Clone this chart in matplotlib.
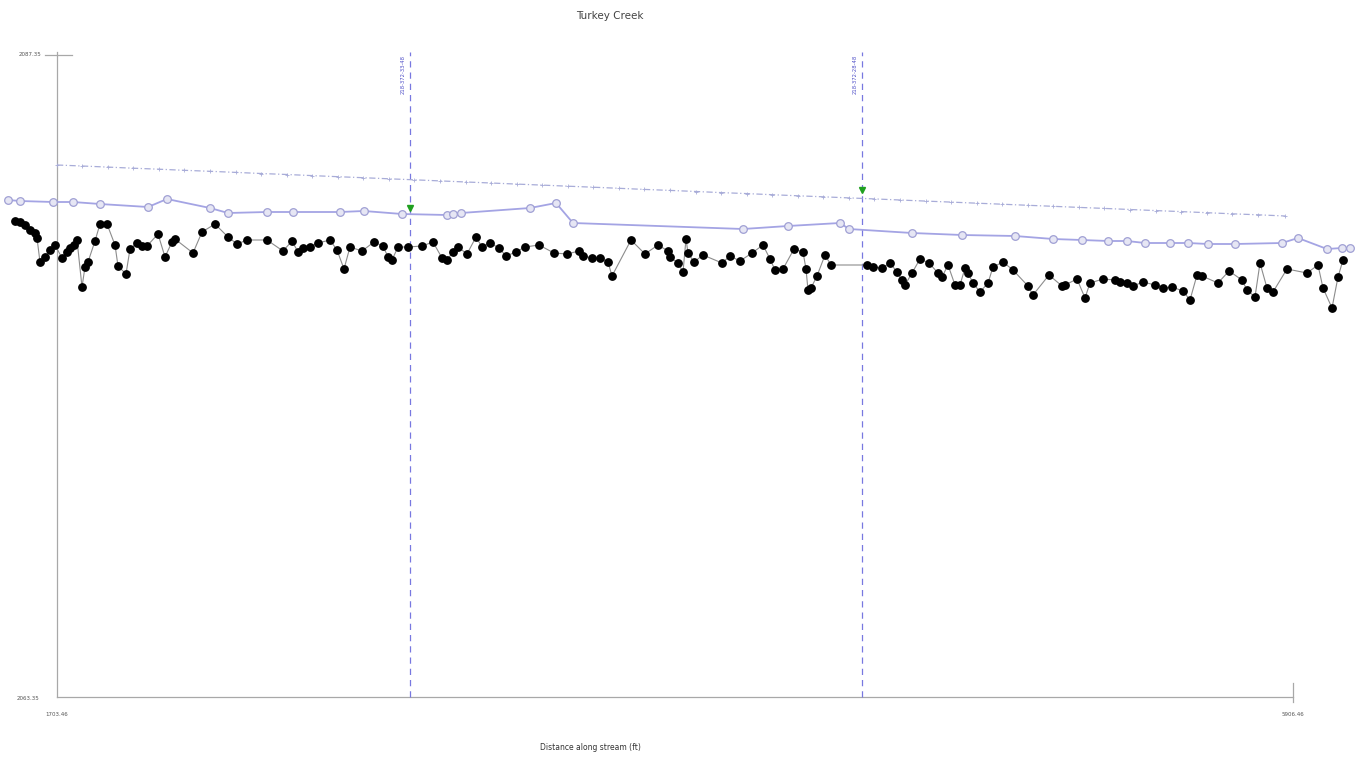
import matplotlib.pyplot as plt

# Stream profile, Turkey Creek (station / elevation in plot units)
bed_station = [15, 20, 25, 30, 35, 37, 40, 45, 50, 55, 62, 67, 70, 74, 77, 82, 85, 88, 95, 100,
               107, 115, 118, 126, 130, 137, 142, 147, 158, 165, 172, 175, 193, 202, 215, 228, 237, 247, 267, 283,
               292, 298, 303, 310, 318, 330, 337, 344, 350, 362, 374, 383, 388, 392, 398, 408, 422, 433, 442, 447,
               453, 458, 467, 476, 482, 490, 499, 506, 516, 525, 539, 554, 567, 579, 583, 592, 600, 608, 612, 631,
               645, 658, 668, 670, 678, 683, 686, 688, 694, 703, 722, 730, 740, 752, 763, 770, 775, 783, 794, 803,
               806, 808, 811, 817, 825, 831, 867, 873, 882, 890, 897, 902, 905, 912, 920, 929, 938, 942, 948, 955,
               960, 965, 968, 973, 980, 988, 993, 1003, 1013, 1028, 1033, 1049, 1062, 1065, 1077, 1085, 1090, 1103, 1115, 1120,
               1127, 1133, 1143, 1155, 1163, 1172, 1183, 1190, 1197, 1202, 1218, 1229, 1242, 1247, 1255, 1260, 1267, 1273, 1287, 1307,
               1318, 1323, 1332, 1338, 1343]
bed_elev = [479, 478, 475, 470, 467, 462, 438, 443, 450, 455, 442, 448, 452, 455, 460, 413, 433, 438, 459, 476,
            476, 455, 434, 426, 451, 457, 454, 454, 466, 443, 458, 461, 447, 468, 476, 463, 456, 460, 460, 449,
            459, 448, 452, 453, 457, 460, 450, 431, 453, 449, 458, 454, 443, 440, 453, 453, 454, 458, 442, 440,
            448, 453, 446, 463, 453, 457, 452, 444, 448, 453, 455, 447, 446, 449, 444, 442, 442, 438, 424, 460,
            446, 455, 449, 443, 437, 428, 461, 447, 438, 445, 437, 444, 439, 447, 455, 441, 430, 431, 451, 448,
            431, 410, 412, 424, 445, 435, 435, 433, 432, 437, 428, 420, 415, 427, 441, 437, 427, 423, 435, 415,
            415, 432, 427, 417, 408, 417, 433, 438, 430, 414, 405, 425, 414, 415, 421, 402, 417, 421, 420, 418,
            417, 414, 418, 415, 412, 413, 409, 400, 425, 424, 417, 429, 420, 410, 403, 437, 412, 408, 431, 427,
            435, 412, 392, 423, 440]

ws_station = [8, 20, 53, 73, 100, 148, 167, 210, 228, 267, 293, 340, 364, 402, 447, 453, 461, 530, 556, 573,
              743, 788, 840, 849, 912, 962, 1015, 1053, 1082, 1108, 1127, 1145, 1170, 1188, 1208, 1235, 1282, 1298, 1327, 1342,
              1350]
ws_elev = [500, 499, 498, 498, 496, 493, 501, 492, 487, 488, 488, 488, 489, 486, 485, 486, 487, 492, 497, 477,
           471, 474, 477, 471, 467, 465, 464, 461, 460, 459, 459, 457, 457, 457, 456, 456, 457, 462, 451, 452,
           452]

grade_station = [57, 82, 108, 133, 159, 184, 210, 236, 261, 287, 312, 338, 363, 389, 414, 440, 466, 491, 517, 542,
                 568, 593, 619, 644, 670, 696, 721, 747, 772, 798, 823, 849, 874, 900, 926, 951, 977, 1002, 1028, 1053,
                 1079, 1104, 1130, 1156, 1181, 1207, 1232, 1258, 1285]
grade_elev = [535, 534.0, 532.9, 531.8, 530.8, 529.7, 528.7, 527.6, 526.5, 525.5, 524.4, 523.3, 522.3, 521.2, 520.2, 519.1,
              518.0, 517.0, 515.9, 514.9, 513.8, 512.8, 511.7, 510.6, 509.6, 508.5, 507.4, 506.4, 505.3, 504.2, 503.2,
              502.1, 501.1, 500.0, 498.9, 497.9, 496.8, 495.8, 494.7, 493.7, 492.6, 491.6, 490.5, 489.4, 488.4, 487.3,
              486.2, 485.2, 484.0]

xs_station = [410, 862]
xs_labels = ["218-372-33-48", "218-372-28-48"]
xs_wse = [492, 510]

x_lo, x_hi = 57, 1293
y_lo, y_hi = 3, 648
x_tick_labels = ["1703.46", "5906.46"]
y_tick_labels = ["2063.35", "2087.35"]

fig = plt.figure(figsize=(13.62, 7.63), dpi=100)
ax = fig.add_axes([0, 0, 1, 1])
ax.set_xlim(0, 1362)
ax.set_ylim(-63, 700)
ax.axis("off")

axis_col = "#a8a8a8"
# frame lines
ax.plot([x_lo, x_lo], [y_lo, y_hi], color=axis_col, lw=0.9)
ax.plot([x_lo, x_hi], [y_lo, y_lo], color=axis_col, lw=0.9)
ax.plot([x_hi, x_hi], [y_lo - 5, y_lo + 14], color=axis_col, lw=0.9)
ax.plot([45, 72], [y_hi - 3, y_hi - 3], color=axis_col, lw=0.9)

# cross sections
for xs, lab, wse in zip(xs_station, xs_labels, xs_wse):
    ax.plot([xs, xs], [y_lo, y_hi], color="#7878e0", lw=0.9, ls=(0, (5, 4)))
    ax.text(xs - 7, y_hi - 3, lab, rotation=90, fontsize=3.8, color="#5050c8",
            ha="center", va="top")
    ax.plot(xs, wse, marker="v", color="#1fa01f", ms=4.5, ls="none", zorder=6)

# design grade line
ax.plot(grade_station, grade_elev, color="#a8acd8", lw=0.9, ls=(0, (5, 2, 1, 2)),
        marker="+", ms=2.5, mew=0.6)

# water surface
ax.plot(ws_station, ws_elev, color="#a4a4e4", lw=1.3, marker="o", ms=5.5,
        mfc="#e6e6f4", mec="#a0a0d4", mew=0.9, zorder=4)

# bed profile
ax.plot(bed_station, bed_elev, color="#8c8c8c", lw=0.8, marker="o", ms=5.3,
        mfc="black", mec="black", zorder=5)

# labels
ax.text(30, y_hi - 2, y_tick_labels[1], fontsize=4, color="#555555", ha="center", va="center")
ax.text(28, 1, y_tick_labels[0], fontsize=4, color="#555555", ha="center", va="center")
ax.text(57, -15, x_tick_labels[0], fontsize=4, color="#555555", ha="center", va="center")
ax.text(x_hi, -15, x_tick_labels[1], fontsize=4, color="#555555", ha="center", va="center")

ax.text(610, 684, "Turkey Creek", fontsize=7.5, color="#444444", ha="center", va="center")
ax.text(590, -48, "Distance along stream (ft)", fontsize=5.5, color="#333333", ha="center", va="center")

fig.savefig("out.png", dpi=100)
